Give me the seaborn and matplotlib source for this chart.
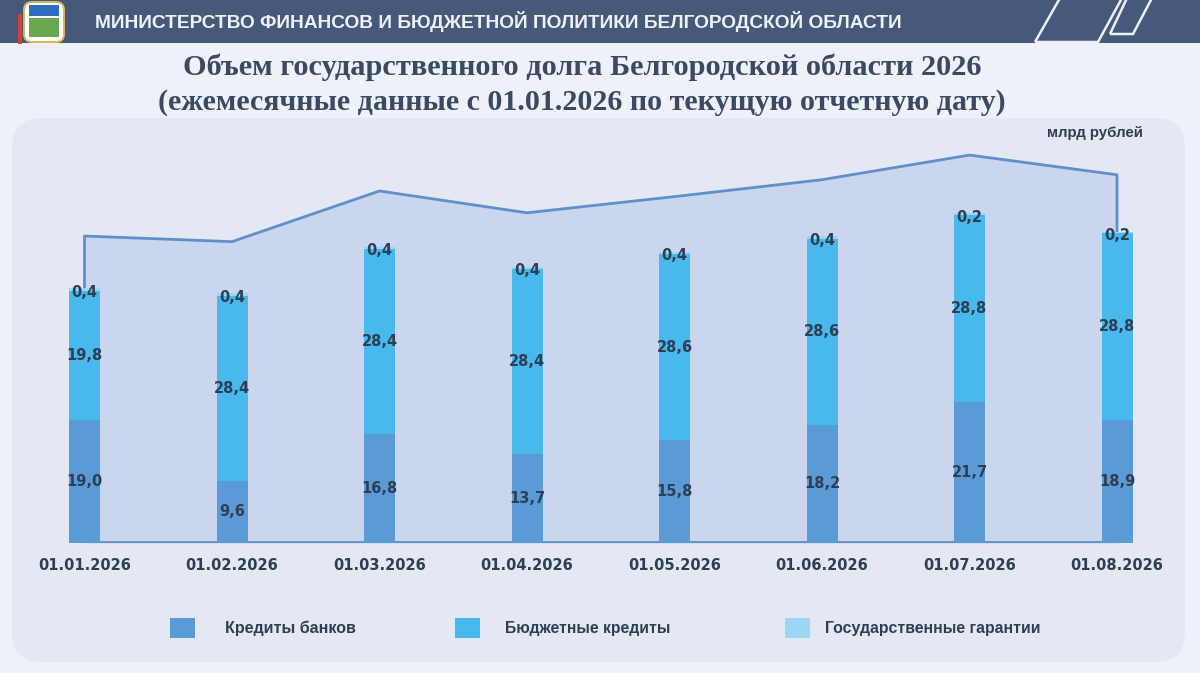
import matplotlib
matplotlib.use("Agg")
import matplotlib.pyplot as plt
import seaborn as sns
import numpy as np
import pandas as pd
from matplotlib.patches import FancyBboxPatch, Rectangle, Polygon
from matplotlib.transforms import IdentityTransform

# ---- data ----
dates = ["01.01.2026", "01.02.2026", "01.03.2026", "01.04.2026",
         "01.05.2026", "01.06.2026", "01.07.2026", "01.08.2026"]
bank_credits = [19.0, 9.6, 16.8, 13.7, 15.8, 18.2, 21.7, 18.9]
budget_credits = [19.8, 28.4, 28.4, 28.4, 28.6, 28.6, 28.8, 28.8]
guarantees = [0.4, 0.4, 0.4, 0.4, 0.4, 0.4, 0.2, 0.2]
series_names = ["Кредиты банков", "Бюджетные кредиты", "Государственные гарантии"]
header_text = "МИНИСТЕРСТВО ФИНАНСОВ И БЮДЖЕТНОЙ ПОЛИТИКИ БЕЛГОРОДСКОЙ ОБЛАСТИ"
title_lines = ["Объем государственного долга Белгородской области 2026",
               "(ежемесячные данные с 01.01.2026 по текущую отчетную дату)"]
unit_text = "млрд рублей"

c_bank = "#5b9bd5"
c_budget = "#47b9ec"
c_guar = "#9bd7f2"
c_text = "#2f3e55"
c_area = "#c9d6ee"
c_line = "#5e91c9"
c_page = "#eff1f9"
c_panel = "#e3e8f2"
c_header = "#46597a"

sns.set_theme(style="white")
plt.rcParams["font.family"] = ["DejaVu Sans"]
narrow = ["Liberation Sans", "DejaVu Sans"]

df = pd.DataFrame({"date": dates, "bank": bank_credits,
                   "budget": budget_credits, "guar": guarantees})
df["b2"] = df["bank"] + df["budget"]
df["total"] = df["b2"] + df["guar"]

W, H = 1200, 673
fig = plt.figure(figsize=(12, 6.73), dpi=100, facecolor=c_page)
renderer = fig.canvas.get_renderer()


def fit_text(x, y, s, width_px, size, **kw):
    t = fig.text(x, y, s, fontsize=size, **kw)
    w = t.get_window_extent(renderer=renderer).width
    t.set_fontsize(size * width_px / w)
    return t


# panel background
fig.patches.append(FancyBboxPatch((12, H - 662), 1173, 544, boxstyle="round,pad=0,rounding_size=30",
                                  transform=IdentityTransform(), facecolor=c_panel,
                                  edgecolor="none", zorder=0))
# header band
fig.patches.append(Rectangle((0, H - 43), W, 43, transform=IdentityTransform(),
                             facecolor=c_header, edgecolor="none", zorder=1))
# decorative parallelograms
fig.patches.append(Polygon([(1035, H - 42), (1098, H - 42), (1122, H + 2), (1060, H + 2)],
                           closed=True, transform=IdentityTransform(), fill=False,
                           edgecolor="#e9eef7", lw=1.8, zorder=2))
fig.patches.append(Polygon([(1110, H - 34), (1133, H - 34), (1152, H + 2), (1127, H + 2)],
                           closed=True, transform=IdentityTransform(), fill=False,
                           edgecolor="#e9eef7", lw=1.8, zorder=2))
# simple emblem
fig.patches.append(FancyBboxPatch((24, H - 42), 40, 40, boxstyle="round,pad=0,rounding_size=8",
                                  transform=IdentityTransform(), facecolor="#ffffff",
                                  edgecolor="#d9b85a", lw=1.4, zorder=2))
fig.patches.append(Rectangle((29, H - 16), 30, 11, transform=IdentityTransform(),
                             facecolor="#2f6fc0", edgecolor="none", zorder=3))
fig.patches.append(Rectangle((29, H - 37), 30, 19, transform=IdentityTransform(),
                             facecolor="#6aa84f", edgecolor="none", zorder=3))
fig.patches.append(Rectangle((18, H - 44), 4, 30, transform=IdentityTransform(),
                             facecolor="#d8413a", edgecolor="none", zorder=3))

fit_text(95 / W, 1 - 21 / H, header_text, 815, 15, color="#eef2f8",
         fontweight="bold", family=narrow, ha="left", va="center", zorder=4)

serif = ["Liberation Serif", "DejaVu Serif"]
fit_text(0.485, 1 - 67 / H, title_lines[0], 800, 20, color="#3b4a62",
         fontweight="bold", family=serif, ha="center", va="center")
fit_text(0.485, 1 - 103 / H, title_lines[1], 850, 20, color="#3b4a62",
         fontweight="bold", family=serif, ha="center", va="center")
fit_text(1095 / W, 1 - 133 / H, unit_text, 96, 10, color=c_text,
         fontweight="bold", family=narrow, ha="center", va="center")

# axes
ax = fig.add_axes([10.75 / W, (H - 543) / H, 1180 / W, 425 / H])
ax2 = ax.twinx()
ax.set_zorder(3)
ax2.set_zorder(2)
ax.patch.set_visible(False)
ax2.patch.set_visible(False)

# area (total debt trend) on secondary scale
area_lo, area_hi = -31 / 7.04, (425 - 31) / 7.04
xs = np.arange(len(dates))
ax2.fill_between(xs, area_lo, df["total"], color=c_area, lw=0)
ax2.plot(np.r_[xs[0], xs, xs[-1]], np.r_[area_lo, df["total"], area_lo], color=c_line, lw=2)
ax2.plot([xs[0], xs[-1]], [area_lo + 0.15, area_lo + 0.15], color=c_line, lw=2)
ax2.set_ylim(area_lo, area_hi)

# stacked bars
bw = 31 / 147.5
sns.barplot(data=df, x="date", y="bank", color=c_bank, width=bw, saturation=1,
            ax=ax, linewidth=0)
sns.barplot(data=df, x="date", y="budget", bottom=df["bank"], color=c_budget, width=bw,
            saturation=1, ax=ax, linewidth=0)
sns.barplot(data=df, x="date", y="guar", bottom=df["b2"], color=c_guar, width=bw,
            saturation=1, ax=ax, linewidth=0)


def fmt(v):
    return f"{v:.1f}".replace(".", ",")


for i in range(len(dates)):
    ax.text(i, df["bank"][i] / 2, fmt(df["bank"][i]), ha="center", va="center",
            fontsize=10.5, fontweight="bold", color=c_text)
    ax.text(i, df["bank"][i] + df["budget"][i] / 2, fmt(df["budget"][i]), ha="center",
            va="center", fontsize=10.5, fontweight="bold", color=c_text)
    ax.text(i, df["total"][i] - 0.6, fmt(df["guar"][i]), ha="center", va="center",
            fontsize=10.5, fontweight="bold", color=c_text)

ax.set_xlim(-0.5, len(dates) - 0.5)
ax.set_ylim(0, 425 / 6.5)
ax.set_xlabel("")
ax.set_ylabel("")
ax.set_yticks([])
ax2.set_yticks([])
ax.tick_params(axis="x", length=0, pad=11, labelsize=10.5, labelcolor=c_text)
for t in ax.get_xticklabels():
    t.set_fontweight("bold")
for a in (ax, ax2):
    for s in a.spines.values():
        s.set_visible(False)

# legend
leg_sq_x = [170, 455, 785]
leg_tx_x = [225, 505, 825]
leg_tx_w = [130, 165, 215]
for c, sx, tx, tw, name in zip((c_bank, c_budget, c_guar), leg_sq_x, leg_tx_x, leg_tx_w, series_names):
    fig.patches.append(Rectangle((sx, H - 638), 25, 20, transform=IdentityTransform(),
                                 facecolor=c, edgecolor="none", zorder=2))
    fit_text(tx / W, 1 - 628 / H, name, tw, 11, color=c_text, fontweight="bold",
             family=narrow, ha="left", va="center")

fig.savefig("out.png", dpi=100, facecolor=c_page)
